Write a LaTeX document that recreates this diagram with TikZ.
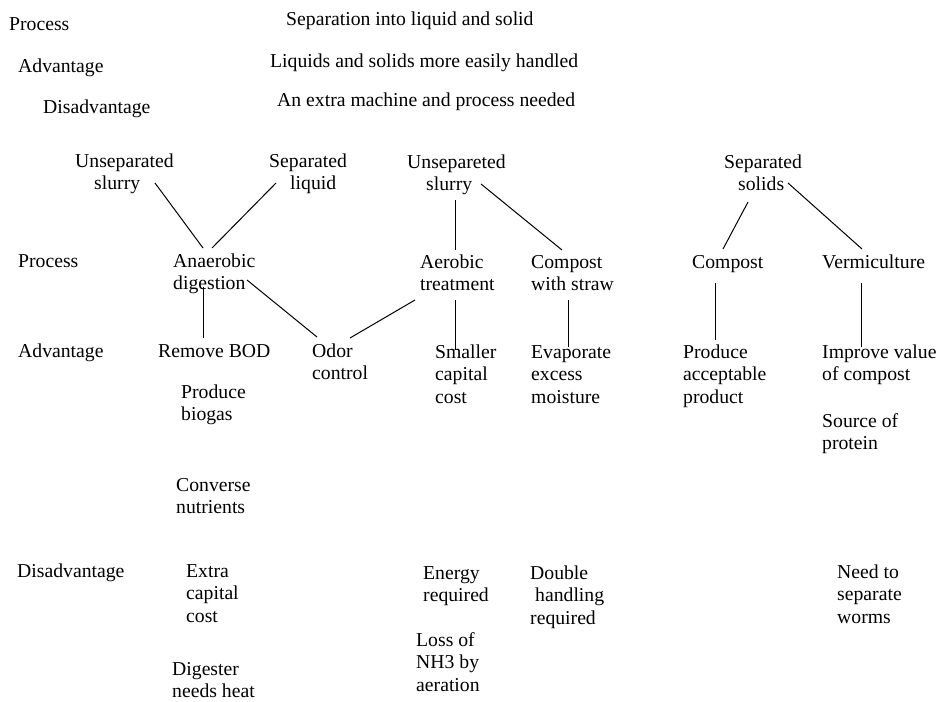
\documentclass[tikz,border=0pt]{standalone}
\usepackage{fontspec}
\setmainfont{Liberation Serif}
\usepackage{tikz}
\usetikzlibrary{calc, positioning}
\newcommand\lbl[4]{\node[lbl] (#1) at (#2,#3) {\begin{tabular}[t]{@{}l@{}}#4\end{tabular}};}
\newcommand\link[4]{\draw[link] ([shift={#2}]#1.base west) -- ([shift={#4}]#3.base west);}
\newcommand\ind[1]{\hspace*{#1pt}}

\begin{document}
\begin{tikzpicture}[x=1pt, y=-1pt,
	lbl/.style={anchor=base west, inner sep=0pt, font=\fontsize{19.7}{22.6}\selectfont},
	link/.style={line width=1pt}]
	\useasboundingbox (0,0) rectangle (936,701);
	% first step
	\lbl{proctop}{9}{31}{Process}
	\lbl{advtop}{18}{73}{Advantage}
	\lbl{distop}{43}{113}{Disadvantage}
	\lbl{sepproc}{286}{26}{Separation into liquid and solid}
	\lbl{sepadv}{270}{67}{Liquids and solids more easily handled}
	\lbl{sepdis}{277}{106}{An extra machine and process needed}
	% row labels
	\lbl{proc}{18}{267}{Process}
	\lbl{adv}{18}{357}{Advantage}
	\lbl{dis}{17}{577}{Disadvantage}
	% inputs
	\lbl{unsepA}{75}{167}{Unseparated\\\ind{19}slurry}
	\lbl{sepliq}{269}{167}{Separated\\\ind{21}liquid}
	\lbl{unsepB}{407}{168}{Unsepareted\\\ind{19}slurry}
	\lbl{sepsol}{724}{168}{Separated\\\ind{14}solids}
	% processes
	\lbl{anaer}{173}{267}{Anaerobic\\digestion}
	\lbl{aerob}{420}{268}{Aerobic\\treatment}
	\lbl{straw}{531}{268}{Compost\\with straw}
	\lbl{compost}{692}{268}{Compost}
	\lbl{vermi}{822}{268}{Vermiculture}
	% advantages
	\lbl{bod}{158}{357}{Remove BOD}
	\lbl{biogas}{181}{398}{Produce\\biogas}
	\lbl{nutri}{176}{491}{Converse\\nutrients}
	\lbl{odor}{312}{357}{Odor\\control}
	\lbl{smaller}{435}{358}{Smaller\\capital\\cost}
	\lbl{evap}{531}{358}{Evaporate\\excess\\moisture}
	\lbl{accept}{683}{358}{Produce\\acceptable\\product}
	\lbl{improve}{822}{358}{Improve value\\of compost}
	\lbl{protein}{822}{427}{Source of\\protein}
	% disadvantages
	\lbl{extra}{186}{577}{Extra\\capital\\cost}
	\lbl{heat}{172}{675}{Digester\\needs heat}
	\lbl{energy}{423}{579}{Energy\\required}
	\lbl{nhloss}{416}{646}{Loss of\\NH3 by\\aeration}
	\lbl{double}{530}{579}{Double\\\ind{5}handling\\required}
	\lbl{worms}{837}{578}{Need to\\separate\\worms}
	% connectors
	\link{unsepA}{(80,16)}{anaer}{(30,-19)}
	\link{sepliq}{(7,16)}{anaer}{(39,-19)}
	\link{anaer}{(30,20)}{bod}{(45,-19)}
	\link{anaer}{(74,13)}{odor}{(5,-20)}
	\link{odor}{(38,-19)}{aerob}{(-5,32)}
	\link{unsepB}{(48,32)}{aerob}{(35,-18)}
	\link{unsepB}{(74,16)}{straw}{(31,-18)}
	\link{aerob}{(35,32)}{smaller}{(20,-8)}
	\link{straw}{(37,32)}{evap}{(37,-11)}
	\link{sepsol}{(24,34)}{compost}{(31,-19)}
	\link{sepsol}{(64,15)}{vermi}{(40,-19)}
	\link{compost}{(23,15)}{accept}{(32,-18)}
	\link{vermi}{(39,15)}{improve}{(39,-11)}
\end{tikzpicture}
\end{document}
